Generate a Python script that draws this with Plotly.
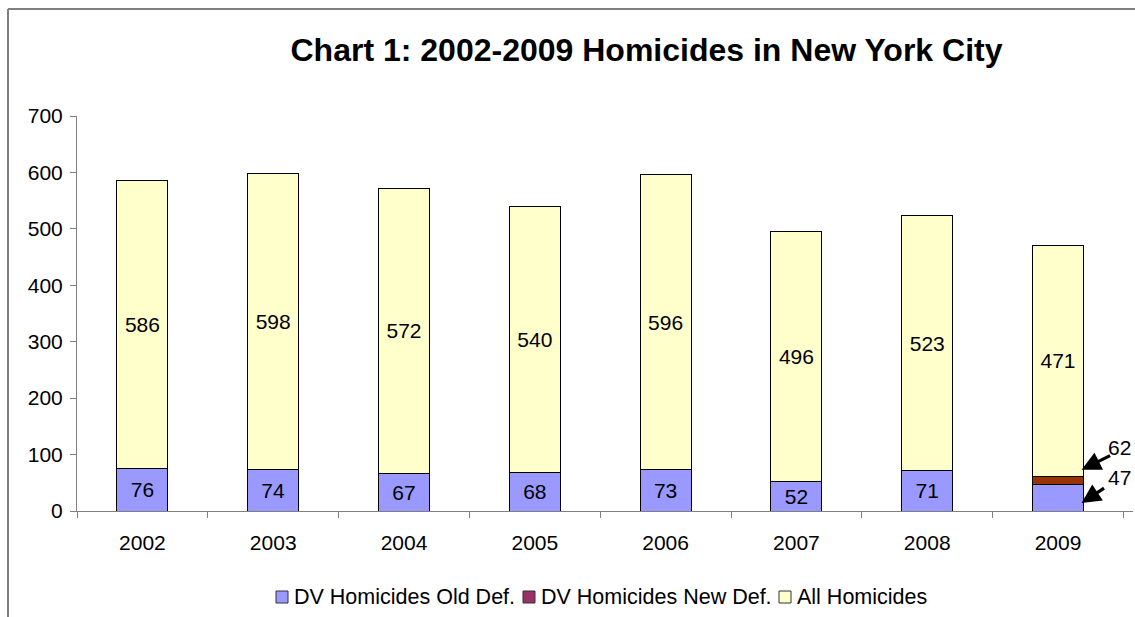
import plotly.graph_objects as go

# Homicide counts by year
years = ["2002", "2003", "2004", "2005", "2006", "2007", "2008", "2009"]
dv_old_def = [76, 74, 67, 68, 73, 52, 71, 47]
dv_new_def = [None, None, None, None, None, None, None, 62]
all_homicides = [586, 598, 572, 540, 596, 496, 523, 471]

series_names = ["DV Homicides Old Def.", "DV Homicides New Def.", "All Homicides"]
bar_colors = ["#9999FF", "#993300", "#FFFFCC"]
legend_colors = ["#9999FF", "#993366", "#FFFFCC"]

# Stacked segment heights: DV old, additional DV under new definition, remainder of all homicides
dv_top = [n if n is not None else o for o, n in zip(dv_old_def, dv_new_def)]
new_extra = [(n - o) if n is not None else 0 for o, n in zip(dv_old_def, dv_new_def)]
rest = [a - t for a, t in zip(all_homicides, dv_top)]

FONT = "Liberation Sans, Arial, sans-serif"
FS = 21
LEG_FS = 21.5
LINE = dict(color="black", width=1)
BAR_W = 0.39

W, H = 1135, 617
ML, MR, MT, MB = 77, 2, 116, 106
PW, PH = W - ML - MR, H - MT - MB


def px_x(px):
    return (px - ML) / PW


def px_y(py):
    return (H - MB - py) / PH


old_text = [str(v) if n is None else "" for v, n in zip(dv_old_def, dv_new_def)]

fig = go.Figure()
fig.add_trace(go.Bar(
    x=years, y=dv_old_def, name=series_names[0], showlegend=False,
    marker=dict(color=bar_colors[0], line=LINE), width=BAR_W,
    text=old_text, textposition="inside", insidetextanchor="middle",
    textangle=0, textfont=dict(color="black", size=FS, family=FONT),
))
fig.add_trace(go.Bar(
    x=years, y=new_extra, name=series_names[1], showlegend=False,
    marker=dict(color=bar_colors[1], line=LINE), width=BAR_W,
    textposition="none",
))
fig.add_trace(go.Bar(
    x=years, y=rest, name=series_names[2], showlegend=False,
    marker=dict(color=bar_colors[2], line=LINE), width=BAR_W,
    text=[str(v) for v in all_homicides], textposition="inside",
    insidetextanchor="middle", textangle=0,
    textfont=dict(color="black", size=FS, family=FONT),
))

# Callouts for the 2009 DV counts
last = len(years) - 1
arrow = dict(showarrow=True, arrowhead=2, arrowsize=1.2, arrowwidth=3.2,
             arrowcolor="black", text="", xref="x", yref="y")
fig.add_annotation(x=last + 0.18, y=73, ax=30, ay=-15, **arrow)
fig.add_annotation(x=last + 0.18, y=14, ax=24, ay=-16, **arrow)
fig.add_annotation(x=last + 0.47, y=113, xref="x", yref="y",
                   text=str(dv_new_def[last]), showarrow=False,
                   font=dict(size=FS, family=FONT, color="black"))
fig.add_annotation(x=last + 0.47, y=60, xref="x", yref="y",
                   text=str(dv_old_def[last]), showarrow=False,
                   font=dict(size=FS, family=FONT, color="black"))

# Legend row below the axis
legend_marker_left = [276, 523, 779]
for name, color, left in zip(series_names, legend_colors, legend_marker_left):
    fig.add_shape(type="rect", xref="paper", yref="paper",
                  x0=px_x(left), x1=px_x(left + 12),
                  y0=px_y(603), y1=px_y(591),
                  fillcolor=color, line=dict(color="#333333", width=1))
    fig.add_annotation(x=px_x(left + 16), y=px_y(597), xref="paper",
                       yref="paper", xanchor="left", yanchor="middle",
                       text=name, showarrow=False,
                       font=dict(size=LEG_FS, family=FONT, color="black"))

# Outer chart frame (top and left edges)
fig.add_shape(type="line", xref="paper", yref="paper",
              x0=px_x(8), x1=px_x(1140), y0=px_y(9), y1=px_y(9),
              line=dict(color="#7f7f7f", width=2))
fig.add_shape(type="line", xref="paper", yref="paper",
              x0=px_x(8), x1=px_x(8), y0=px_y(9), y1=px_y(620),
              line=dict(color="#7f7f7f", width=2))

fig.update_layout(
    barmode="stack",
    width=W, height=H,
    margin=dict(l=ML, r=MR, t=MT, b=MB, autoexpand=False),
    paper_bgcolor="white", plot_bgcolor="white",
    font=dict(family=FONT, size=FS, color="black"),
    title=dict(text="<b>Chart 1: 2002-2009 Homicides in New York City</b>",
               x=646.5 / W, xanchor="center", y=1 - 50 / H, yanchor="middle",
               font=dict(size=32, family=FONT, color="black")),
    showlegend=False,
    xaxis=dict(type="category", showline=True, linecolor="#808080",
               linewidth=1, ticks="outside", tickson="boundaries",
               ticklen=6, tickcolor="#808080", showgrid=False,
               ticklabelstandoff=13,
               tickfont=dict(size=FS, family=FONT)),
    yaxis=dict(range=[0, 700], dtick=100, showline=True, linecolor="#808080",
               linewidth=1, ticks="outside", ticklen=6, tickcolor="#808080",
               showgrid=False, zeroline=False, ticklabelstandoff=3,
               tickfont=dict(size=FS, family=FONT)),
)

fig.write_html("out.html")
